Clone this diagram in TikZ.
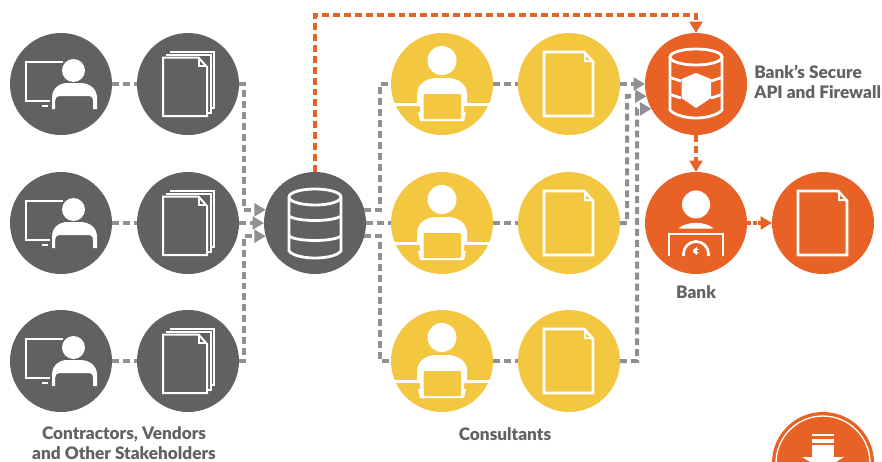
\documentclass[tikz,border=0pt]{standalone}
\usepackage{fontspec}
\setmainfont{Lato}[BoldFont={Lato Black}]
\usetikzlibrary{arrows.meta}
\definecolor{darkc}{HTML}{616164}
\definecolor{yellowc}{HTML}{F3C73F}
\definecolor{orangec}{HTML}{E86125}
\definecolor{greyc}{HTML}{8F8F94}
\definecolor{textc}{HTML}{626266}
\tikzset{
  disc/.style={circle,minimum size=76.5pt,inner sep=0pt,outer sep=0pt},
  darkdisc/.style={disc,fill=darkc},
  yellowdisc/.style={disc,fill=yellowc},
  orangedisc/.style={disc,fill=orangec},
  wl/.style={draw=white,line width=2.1pt,line join=miter},
  thinwl/.style={draw=white,line width=1.5pt,line join=miter},
  greyline/.style={draw=greyc,line width=3pt,dash pattern=on 5.2pt off 3pt},
  orangeline/.style={draw=orangec,line width=3pt,dash pattern=on 5.2pt off 3pt},
  orangeshort/.style={draw=orangec,line width=3pt,dash pattern=on 3pt off 1.2pt},
  tip/.style={-{Triangle[length=8.5pt,width=9.5pt]}},
  lab/.style={font=\bfseries\fontsize{12.9pt}{15pt}\selectfont,text=textc,align=center,inner sep=0pt},
  pics/computeruser/.style={code={
    \draw[wl] (2,-22) -- (-35,-22) -- (-35,17) -- (-11,17);
    \fill[white] (-19,21) rectangle (-13,23.2);
    \fill[white] (12.5,-13.5) circle (11.5);
    \fill[white] (-9,25) -- (-9,14) .. controls (-9,3) and (0,-1) .. (6,-1) -- (19,-1)
      .. controls (29,-1) and (36,5) .. (36,14) -- (36,25) -- (32,25) -- (32,17)
      .. controls (32,13) and (30,12) .. (28,12) -- (-2,12)
      .. controls (-4,12) and (-6,14) .. (-6,17) -- (-6,25) -- cycle;
  }},
  pics/docstack/.style={code={
    \draw[thinwl] (-18,-32) -- (26,-32) -- (26,24) -- (22,24);
    \draw[thinwl] (-22,-29.5) -- (22.5,-29.5) -- (22.5,28.5) -- (19,28.5);
    \draw[thinwl,fill=darkc] (-25,-26.5) -- (10.5,-26.5) -- (19,-17) -- (19,32) -- (-25,32) -- cycle;
    \draw[thinwl] (10.5,-26.5) -- (10.5,-18) -- (19,-18);
  }},
  pics/singledoc/.style={code={
    \draw[wl] (-25,-32) -- (15,-32) -- (24,-22) -- (24,32) -- (-25,32) -- cycle;
    \fill[white] (15,-32) -- (15,-22) -- (24,-22) -- cycle;
    \fill[#1] (17,-27.5) -- (17,-24) -- (20.5,-24) -- cycle;
  }},
  pics/database/.style={code={
    \draw[wl] (0,-26) ellipse (26 and 8);
    \draw[wl] (-26,-26) -- (-26,28) .. controls (-22,33) and (-10,35) .. (0,35)
       .. controls (10,35) and (22,33) .. (26,28) -- (26,-26);
    \draw[wl] (-26,-7) .. controls (-18,-1) and (18,-1) .. (26,-7);
    \draw[wl] (-26,13) .. controls (-18,19) and (18,19) .. (26,13);
  }},
  pics/securedb/.style={code={
    \draw[wl] (0,-27) ellipse (26 and 8);
    \draw[wl] (-26,-27) -- (-26,26) .. controls (-22,31) and (-10,34) .. (0,34)
       .. controls (10,34) and (22,31) .. (26,26) -- (26,-27);
    \draw[wl] (-26,-6.5) -- (-15,-3);
    \draw[wl] (-26,10.5) -- (-15,14);
    \draw[wl] (26,-6.5) -- (15,-3);
    \draw[wl] (26,10.5) -- (15,14);
    \fill[white] (-14.5,-5) -- (0,-11) -- (15,-5) -- (15,14) -- (0,24) -- (-14.5,14) -- cycle;
  }},
  pics/laptopuser/.style={code={
    \fill[white] (0,-23.5) circle (14.5);
    \fill[white] (-49,18.5) rectangle (49,22);
    \fill[white] (-25,22) -- (-25,10) .. controls (-25,-1) and (-14,-6) .. (-6,-6) -- (6,-6)
      .. controls (14,-6) and (25,-1) .. (25,10) -- (25,22) -- (22,22) -- (22,28) -- (24,28) -- (22,37)
      -- (-22,37) -- (-24,28) -- (-22,28) -- (-22,22) -- cycle;
    \fill[yellowc,rounded corners=0.8pt] (-18.5,10) rectangle (19,35);
  }},
  pics/bankuser/.style={code={
    \fill[white] (0,-18.5) circle (14);
    \fill[white] (-17.5,5.5) .. controls (-10,-2) and (10,-2) .. (17.5,5.5) -- cycle;
    \draw[wl] (-27,33) -- (-27,11) -- (27,11) -- (27,33);
    \draw[white,line width=2pt] (-12.5,33) -- (-12.5,31) arc (180:360:12.5) -- (12.5,33);
    \fill[white] (0,28) circle (3);
    \fill[orangec] (0.6,27) rectangle (3.4,29);
    \fill[orangec] (-0.5,26.6) rectangle (0.5,29.4);
    \fill[white] (-0.5,24) rectangle (0.5,32);
  }},
}
\begin{document}
\begin{tikzpicture}[x=0.75pt,y=-0.75pt]
\useasboundingbox (0,0) rectangle (882,461);

% connector bends
\coordinate (ltop) at (244,84);
\coordinate (lbot) at (244,361);
\coordinate (mtop) at (380,84);
\coordinate (mbot) at (380,361);
\coordinate (rmid) at (627,96);
\coordinate (rbot) at (637,109);
\coordinate (orangetop) at (696,15);

% discs
\node[darkdisc] (u1) at (61,84) {};
\node[darkdisc] (u2) at (61,223) {};
\node[darkdisc] (u3) at (61,361) {};
\node[darkdisc] (d1) at (188,84) {};
\node[darkdisc] (d2) at (188,223) {};
\node[darkdisc] (d3) at (188,361) {};
\node[darkdisc] (db) at (315,223) {};
\node[yellowdisc] (c1) at (442,84) {};
\node[yellowdisc] (c2) at (442,223) {};
\node[yellowdisc] (c3) at (442,361) {};
\node[yellowdisc] (r1) at (569,84) {};
\node[yellowdisc] (r2) at (569,223) {};
\node[yellowdisc] (r3) at (569,361) {};
\node[orangedisc] (sec) at (696,84) {};
\node[orangedisc] (bank) at (696,223) {};
\node[orangedisc] (res) at (823,223) {};
\node[orangedisc] (badge) at (823,463) {};

% grey connectors
\draw[greyline] (u1.east) -- (d1.west);
\draw[greyline] (u2.east) -- (d2.west);
\draw[greyline] (u3.east) -- (d3.west);
\draw[greyline,tip] (d1.east) -- (ltop) |- (db.165);
\draw[greyline,tip] (d2.east) -- (db.west);
\draw[greyline,tip] (d3.east) -- (lbot) |- (db.195);
\draw[greyline] (db.15) -| (mtop) -- (c1.west);
\draw[greyline] (db.east) -- (c2.west);
\draw[greyline] (db.345) -| (mbot) -- (c3.west);
\draw[greyline] (c1.east) -- (r1.west);
\draw[greyline] (c2.east) -- (r2.west);
\draw[greyline] (c3.east) -- (r3.west);
\draw[greyline,tip] (r1.east) -- (sec.west);
\draw[greyline,tip] (r2.east) -| (rmid) -- (sec.194);
\draw[greyline,tip] (r3.east) -| (rbot) -- (sec.209.4);

% orange connectors
\draw[orangeline,tip] (db.north) |- (orangetop) -- (sec.north);
\draw[orangeline,tip] (sec.south) -- (bank.north);
\draw[orangeshort,tip] (bank.east) -- (res.west);

% icons
\pic at (u1) {computeruser};
\pic at (u2) {computeruser};
\pic at (u3) {computeruser};
\pic at (d1) {docstack};
\pic at (d2) {docstack};
\pic at (d3) {docstack};
\pic at (db) {database};
\pic at (c1) {laptopuser};
\pic at (c2) {laptopuser};
\pic at (c3) {laptopuser};
\pic at (r1) {singledoc=yellowc};
\pic at (r2) {singledoc=yellowc};
\pic at (r3) {singledoc=yellowc};
\pic at (sec) {securedb};
\pic at (bank) {bankuser};
\pic at (res) {singledoc=orangec};

% badge
\draw[white,line width=1pt] (badge) circle (47);
\fill[white] (812,434.3) rectangle (834,436);
\fill[white] (812,439.2) rectangle (834,443);
\fill[white] (812,445) rectangle (834,457);
\fill[white] (802,457) -- (844,457) -- (823,470) -- cycle;

% labels
\node[lab,align=left,anchor=west] (seclab) at (754,82) {Bank’s Secure\\API and Firewall};
\node[lab] (banklab) at (696,292) {Bank};
\node[lab] (conslab) at (505,434) {Consultants};
\node[lab] (contlab) at (124,443.5) {Contractors, Vendors\\and Other Stakeholders};
\end{tikzpicture}
\end{document}
